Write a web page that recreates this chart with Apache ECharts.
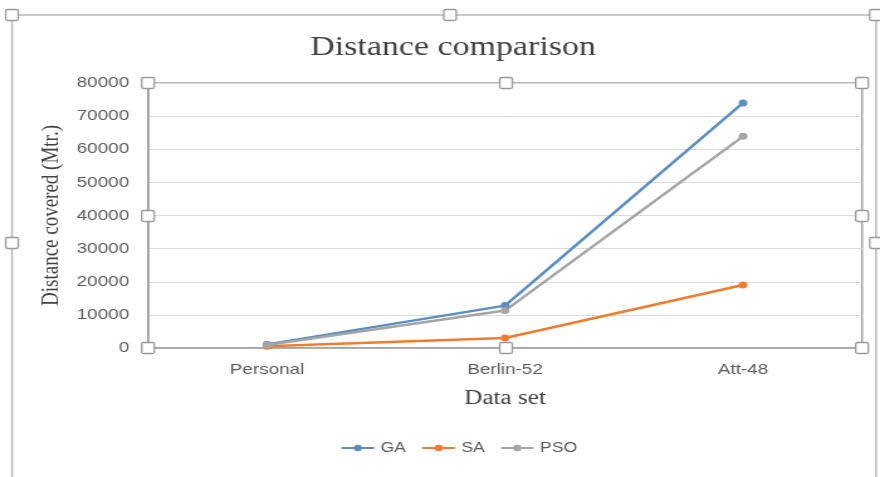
<!DOCTYPE html>
<html><head><meta charset="utf-8">
<script src="https://cdn.jsdelivr.net/npm/echarts@6/dist/echarts.min.js"></script>
<style>
html,body{margin:0;padding:0;background:#fff}
#wrap{width:880px;height:477px;overflow:hidden;position:relative}
#c{width:700px;height:477px;transform:scaleX(1.257143);transform-origin:0 0}
</style>
</head><body><div id="wrap"><div id="c"></div></div>
<script>
var categories = ['Personal', 'Berlin-52', 'Att-48'];
var gaValues = [1100, 12800, 74000];
var saValues = [500, 3000, 19000];
var psoValues = [900, 11300, 63900];
var seriesNames = ['GA', 'SA', 'PSO'];
var yMin = 0, yMax = 80000, yStep = 10000;

// the reference picture is horizontally stretched; draw on a narrower canvas and stretch it
var SX = 880 / 700;
function ix(x) { return x / SX; }

var chart = echarts.init(document.getElementById('c'));
function handle(x, y) {
  return { type: 'rect', shape: { x: ix(x) - 5, y: y - 5.5, width: 10, height: 11, r: 1.5 },
    style: { fill: '#fff', stroke: '#9a9a9a', lineWidth: 1.3 }, z: 100 };
}
var serif = '"Liberation Serif","DejaVu Serif",serif';
var sans = '"Liberation Sans","DejaVu Sans",sans-serif';
function mk(name, data, color) {
  return { name: name, type: 'line', data: data, symbol: 'circle', symbolSize: 7,
    lineStyle: { color: color, width: 2.5 }, itemStyle: { color: color } };
}
chart.setOption({
  animation: false,
  title: { text: 'Distance comparison', left: ix(304), top: 29,
    textStyle: { fontFamily: serif, fontWeight: 'normal', fontSize: 27, color: '#404040' } },
  legend: { data: seriesNames, bottom: 17, left: ix(334), itemWidth: 26, itemHeight: 8, itemGap: 12,
    textStyle: { fontFamily: sans, fontSize: 14, color: '#595959' } },
  grid: { left: ix(148), right: ix(18), top: 83, bottom: 129, show: true, borderColor: '#a0a0a0', borderWidth: 1.5 },
  xAxis: { type: 'category', data: categories, boundaryGap: true,
    name: 'Data set', nameLocation: 'middle', nameGap: 41,
    nameTextStyle: { fontFamily: serif, fontSize: 20, color: '#404040' },
    axisLine: { lineStyle: { color: '#a0a0a0', width: 1.5 } }, axisTick: { show: false },
    axisLabel: { fontFamily: sans, fontSize: 15, color: '#595959', margin: 14 } },
  yAxis: { type: 'value', min: yMin, max: yMax, interval: yStep,
    name: 'Distance covered (Mtr.)', nameLocation: 'middle', nameGap: 56, nameRotate: 90,
    nameTextStyle: { fontFamily: serif, fontSize: 19, color: '#404040' },
    axisLine: { show: true, lineStyle: { color: '#a0a0a0', width: 1.5 } },
    splitLine: { lineStyle: { color: '#dcdcdc', width: 1 } },
    axisLabel: { fontFamily: sans, fontSize: 15, color: '#595959', margin: 15,
      formatter: function (v) { return String(v); } } },
  series: [mk('GA', gaValues, '#5a8ec2'), mk('SA', saValues, '#ed7d31'), mk('PSO', psoValues, '#a5a5a5')],
  graphic: [
    { type: 'rect', shape: { x: ix(12), y: 15, width: ix(876) - ix(12), height: 470 },
      style: { fill: 'none', stroke: '#b8b8b8', lineWidth: 1.5 }, z: 90 },
    handle(12, 15), handle(450, 15), handle(876, 15), handle(12, 243), handle(876, 243),
    handle(148, 83), handle(506, 83), handle(862, 83),
    handle(148, 216), handle(862, 216),
    handle(148, 348), handle(506, 348), handle(862, 348)
  ]
});
</script></body></html>
